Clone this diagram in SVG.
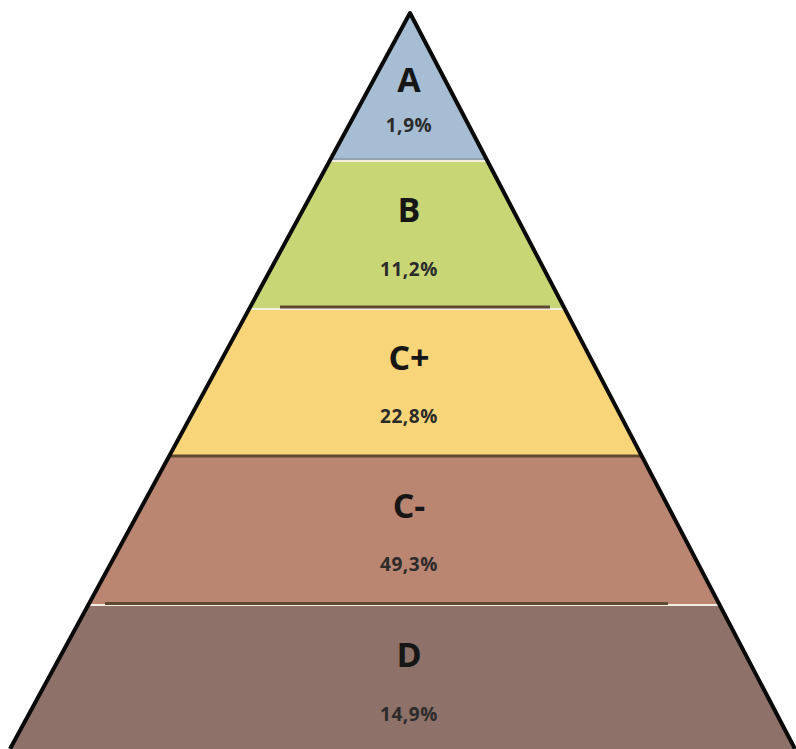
<svg xmlns="http://www.w3.org/2000/svg" width="796" height="749" viewBox="0 0 796 749">
<style>
.lt{font-family:"Open Sans","Liberation Sans",sans-serif;font-weight:bold;font-size:34px;fill:#161616;text-anchor:middle}
.pt{font-family:"Open Sans","Liberation Sans",sans-serif;font-weight:bold;font-size:19px;letter-spacing:0.6px;fill:#2b2b2b;text-anchor:middle}
.sepw{stroke:#f4eee0;stroke-width:2}
.sepd{stroke:#5e4a30;stroke-width:3}
.edge{fill:none;stroke:#0a0a0a;stroke-width:4;stroke-linejoin:round}
</style>
<defs>
<clipPath id="tri"><polygon points="410,13 10,749 795,749"/></clipPath>
</defs>
<rect width="796" height="749" fill="#ffffff"/>
<g clip-path="url(#tri)">
<g id="band-A"><rect x="0" y="0" width="796" height="160" fill="#a6bdd3"/></g>
<g id="band-B"><rect x="0" y="160" width="796" height="148" fill="#c9d676"/></g>
<g id="band-Cplus"><rect x="0" y="308" width="796" height="148" fill="#f8d578"/></g>
<g id="band-Cminus"><rect x="0" y="456" width="796" height="148" fill="#ba8571"/></g>
<g id="band-D"><rect x="0" y="604" width="796" height="145" fill="#8e7168"/></g>
<g id="separators">
<line class="sepw" x1="0" y1="161" x2="796" y2="161"/>
<line x1="0" y1="159" x2="796" y2="159" stroke="#8d9aa6" stroke-width="1.5"/>
<line class="sepw" x1="0" y1="309" x2="796" y2="309"/>
<line class="sepd" x1="280" y1="307" x2="550" y2="307"/>
<line class="sepd" x1="0" y1="456" x2="796" y2="456"/>
<line class="sepw" x1="0" y1="605" x2="796" y2="605"/>
<line class="sepd" x1="105" y1="603.5" x2="668" y2="603.5"/>
</g>
</g>
<g id="outline"><polyline class="edge" points="10,749 410,13 795,749"/></g>
<g id="label-A"><text class="lt" x="409" y="92">A</text><text class="pt" x="409" y="132">1,9%</text></g>
<g id="label-B"><text class="lt" x="409" y="222">B</text><text class="pt" x="409" y="276">11,2%</text></g>
<g id="label-Cplus"><text class="lt" x="409" y="370">C+</text><text class="pt" x="409" y="423">22,8%</text></g>
<g id="label-Cminus"><text class="lt" x="409" y="518">C-</text><text class="pt" x="409" y="571">49,3%</text></g>
<g id="label-D"><text class="lt" x="409" y="667">D</text><text class="pt" x="409" y="721">14,9%</text></g>
</svg>
